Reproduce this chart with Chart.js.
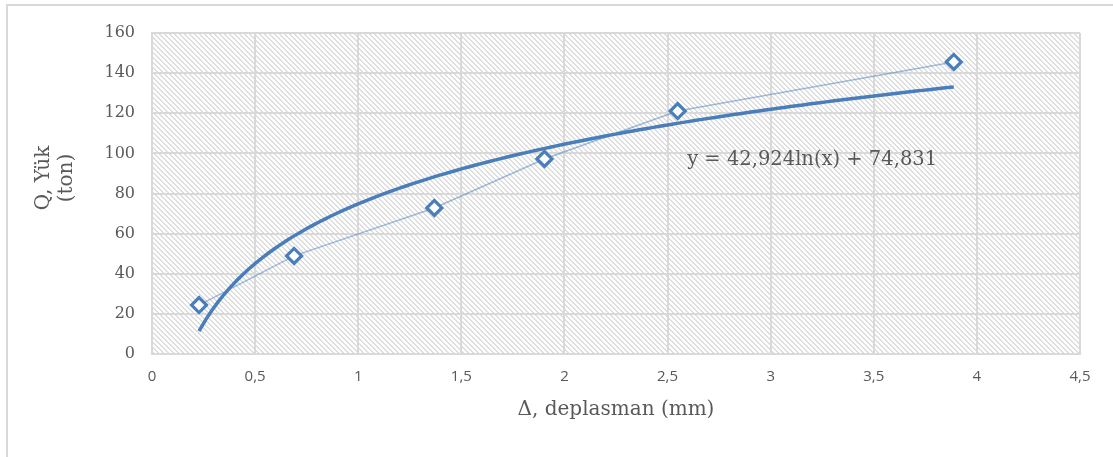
<!DOCTYPE html>
<html>
<head>
<meta charset="utf-8">
<script src="https://cdn.jsdelivr.net/npm/chart.js@4/dist/chart.umd.min.js"></script>
<style>
  html, body { margin: 0; padding: 0; background: #ffffff; }
  #wrap { position: relative; width: 1113px; height: 457px; }
  canvas { display: block; }
</style>
</head>
<body>
<div id="wrap"><canvas id="c" width="1113" height="457"></canvas></div>
<script>
// ---- data ----
const displacement = [0.228, 0.689, 1.369, 1.903, 2.549, 3.888];   // Δ (mm)
const load         = [24.4, 48.9, 72.8, 97.2, 121.1, 145.6];      // Q (ton)
const xTickLabels  = ['0', '0,5', '1', '1,5', '2', '2,5', '3', '3,5', '4', '4,5'];
const yTickLabels  = ['0', '20', '40', '60', '80', '100', '120', '140', '160'];
// logarithmic trendline printed on the chart: y = a ln(x) + b
const trendA = 42.924;
const trendB = 74.831;
const trendLabel = 'y = 42,924ln(x) + 74,831';
const xTitle = 'Δ, deplasman (mm)';
const yTitle = ['Q, Yük', '(ton)'];

// trendline evaluated over the data range
const trendPts = [];
const x0 = Math.min(...displacement), x1 = Math.max(...displacement);
for (let i = 0; i <= 120; i++) {
  const x = x0 + (x1 - x0) * i / 120;
  trendPts.push({ x: x, y: trendA * Math.log(x) + trendB });
}
const points = displacement.map((x, i) => ({ x: x, y: load[i] }));

// hatch pattern
function makePattern(ctx) {
  const n = 5;
  const t = document.createElement('canvas');
  t.width = n; t.height = n;
  const g = t.getContext('2d');
  g.fillStyle = '#ffffff'; g.fillRect(0, 0, n, n);
  g.fillStyle = '#dedede';
  for (let i = 0; i < n; i++) { g.fillRect(i, i, 1, 1); g.fillRect((i + 1) % n, i, 1, 1); }
  return ctx.createPattern(t, 'repeat');
}

const decor = {
  id: 'decor',
  beforeDraw(chart) {
    const ctx = chart.ctx, a = chart.chartArea;
    ctx.save();
    ctx.fillStyle = '#ffffff';
    ctx.fillRect(0, 0, chart.width, chart.height);
    ctx.strokeStyle = '#d9d9d9';
    ctx.lineWidth = 2;
    ctx.strokeRect(7, 5, 1300, 700);
    ctx.fillStyle = makePattern(ctx);
    ctx.fillRect(a.left, a.top, a.right - a.left, a.bottom - a.top);
    ctx.restore();
  },
  afterDraw(chart) {
    const ctx = chart.ctx, a = chart.chartArea;
    const xs = chart.scales.x, ys = chart.scales.y;
    ctx.save();
    ctx.fillStyle = '#595959';
    ctx.font = '19.5px "DejaVu Serif"';
    ctx.textBaseline = 'middle';
    ctx.textAlign = 'left';
    ctx.fillText(trendLabel, xs.getPixelForValue(2.595), ys.getPixelForValue(96.5));
    // x title
    ctx.textAlign = 'center';
    ctx.font = '20px "DejaVu Serif"';
    ctx.fillText(xTitle, (a.left + a.right) / 2, 410);
    // y title
    ctx.translate(55, 178);
    ctx.rotate(-Math.PI / 2);
    ctx.fillText(yTitle[0], 0, -11.5);
    ctx.fillText(yTitle[1], 0, 11.5);
    ctx.restore();
  }
};

new Chart(document.getElementById('c'), {
  type: 'scatter',
  data: {
    datasets: [
      {
        label: 'trend',
        data: trendPts,
        showLine: true,
        borderColor: '#4a7ebb',
        borderWidth: 3.5,
        pointRadius: 0,
        tension: 0,
        order: 0
      },
      {
        label: 'Q',
        data: points,
        showLine: true,
        borderColor: 'rgba(74,126,187,0.5)',
        borderWidth: 1.5,
        pointStyle: 'rectRot',
        pointRadius: 7.5,
        pointBorderWidth: 3.2,
        pointBorderColor: '#4a7ebb',
        pointBackgroundColor: '#ffffff',
        order: 1
      }
    ]
  },
  options: {
    responsive: false,
    animation: false,
    events: [],
    layout: { padding: { top: 33, right: 33, left: 0, bottom: 0 } },
    plugins: { legend: { display: false }, tooltip: { enabled: false } },
    scales: {
      x: {
        type: 'linear', min: 0, max: 4.5,
        afterFit(s) { s.height = 103; },
        ticks: {
          stepSize: 0.5,
          padding: 14,
          color: '#595959',
          font: { family: '"Open Sans"', size: 15 },
          callback: (v) => xTickLabels[Math.round(v / 0.5)]
        },
        grid: { color: '#d9d9d9', lineWidth: 2, drawTicks: false },
        border: { color: '#d9d9d9', width: 2 }
      },
      y: {
        type: 'linear', min: 0, max: 160,
        afterFit(s) { s.width = 152; },
        ticks: {
          stepSize: 20,
          padding: 17,
          color: '#595959',
          font: { family: '"DejaVu Serif"', size: 16 },
          callback: (v) => yTickLabels[Math.round(v / 20)]
        },
        grid: { color: '#d9d9d9', lineWidth: 2, drawTicks: false },
        border: { color: '#d9d9d9', width: 2 }
      }
    }
  },
  plugins: [decor]
});
</script>
</body>
</html>
